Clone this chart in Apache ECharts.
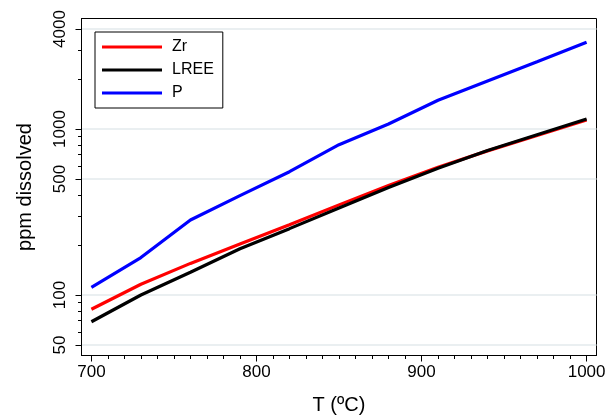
<!DOCTYPE html>
<html>
<head>
<meta charset="utf-8">
<script src="https://cdn.jsdelivr.net/npm/echarts@6/dist/echarts.min.js"></script>
<style>
html,body{margin:0;padding:0;background:#fff;}
#chart{width:606px;height:416px;}
</style>
</head>
<body>
<div id="chart"></div>
<script>
// Data
const temps = [700, 730, 760, 790, 820, 850, 880, 910, 940, 970, 1000];
const zr    = [82, 116, 155, 203, 265, 349, 456, 589, 738, 914, 1133];
const lree  = [69, 100, 137, 190, 251, 334, 444, 580, 741, 923, 1148];
const p     = [111, 168, 283, 397, 553, 804, 1072, 1489, 1946, 2541, 3327];

const seriesNames = ['Zr', 'LREE', 'P'];
const xTickLabels = [700, 800, 900, 1000];
const xMinorTicks = [710,720,730,740,750,760,770,780,790,810,820,830,840,850,860,870,880,890,910,920,930,940,950,960,970,980,990];
const yTickLabels = [50, 100, 500, 1000, 4000];
const yMinorTicks = [60, 70, 80, 90, 200, 300, 400, 600, 700, 800, 900, 2000, 3000];
const xRange = [694, 1006];
const yRange = [43.2, 4630];

const FONT = 'Liberation Sans, Arial, sans-serif';
const lg = Math.log10;
const pair = (vals) => temps.map((t, i) => [t, lg(vals[i])]);

const chart = echarts.init(document.getElementById('chart'), null, {renderer: 'canvas'});
const tickStyle = {color: '#000', width: 1};

chart.setOption({
  animation: false,
  backgroundColor: '#fff',
  textStyle: {fontFamily: FONT},
  grid: {left: 81.5, right: 9.5, top: 18.5, bottom: 60.5, containLabel: false, outerBoundsMode: 'none',
    show: true, borderColor: '#000', borderWidth: 1, backgroundColor: 'transparent'},
  legend: {
    orient: 'vertical', left: 95, top: 32,
    data: seriesNames,
    icon: 'rect', itemWidth: 60, itemHeight: 3, itemGap: 7,
    padding: [7, 9, 7, 7],
    borderColor: '#000', borderWidth: 1, borderRadius: 0, backgroundColor: '#fff',
    textStyle: {fontSize: 16, color: '#000', fontFamily: FONT, padding: [0, 0, 0, 5]}
  },
  xAxis: [{
    type: 'value', min: xRange[0], max: xRange[1], position: 'bottom',
    name: 'T (ºC)', nameLocation: 'middle', nameGap: 40,
    nameTextStyle: {fontSize: 20, color: '#000', fontFamily: FONT},
    axisLine: {show: true, lineStyle: {color: '#000', width: 1}},
    axisTick: {show: true, length: 6, customValues: xTickLabels, lineStyle: tickStyle},
    axisLabel: {customValues: xTickLabels, fontSize: 17, color: '#000', margin: 8, fontFamily: FONT,
      formatter: (v) => String(Math.round(v))},
    splitLine: {show: false}
  }, {
    type: 'value', min: xRange[0], max: xRange[1], position: 'bottom',
    axisLine: {show: false},
    axisTick: {show: true, length: 3.5, customValues: xMinorTicks, lineStyle: tickStyle},
    axisLabel: {show: false},
    splitLine: {show: false}
  }],
  yAxis: [{
    type: 'value', min: lg(yRange[0]), max: lg(yRange[1]), position: 'left',
    name: 'ppm dissolved', nameLocation: 'middle', nameGap: 46,
    nameTextStyle: {fontSize: 20, color: '#000', fontFamily: FONT},
    axisLine: {show: true, lineStyle: {color: '#000', width: 1}},
    axisTick: {show: true, length: 6, customValues: yTickLabels.map(lg), lineStyle: tickStyle},
    axisLabel: {customValues: yTickLabels.map(lg), rotate: 90, margin: 13, fontSize: 17, color: '#000', fontFamily: FONT,
      formatter: (v) => String(Math.round(Math.pow(10, v)))},
    splitLine: {show: true, lineStyle: {color: '#e3eaec', width: 1.5}}
  }, {
    type: 'value', min: lg(yRange[0]), max: lg(yRange[1]), position: 'left',
    axisLine: {show: false},
    axisTick: {show: true, length: 3.5, customValues: yMinorTicks.map(lg), lineStyle: tickStyle},
    axisLabel: {show: false},
    splitLine: {show: false}
  }],
  series: [
    {name: seriesNames[0], type: 'line', data: pair(zr), symbol: 'none', color: '#ff0000', lineStyle: {width: 3.2, color: '#ff0000'}},
    {name: seriesNames[1], type: 'line', data: pair(lree), symbol: 'none', color: '#000000', lineStyle: {width: 3.2, color: '#000000'}},
    {name: seriesNames[2], type: 'line', data: pair(p), symbol: 'none', color: '#0000ff', lineStyle: {width: 3.2, color: '#0000ff'}}
  ]
});
</script>
</body>
</html>
